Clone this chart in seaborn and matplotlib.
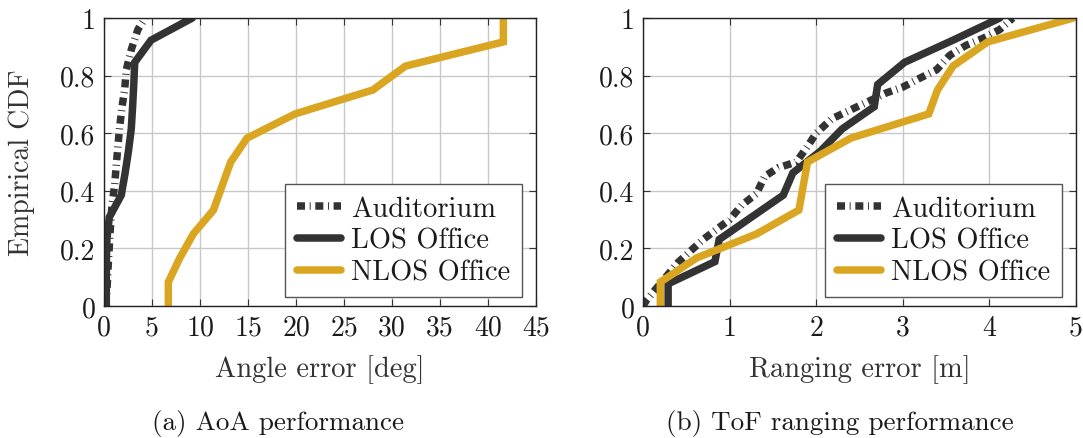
import matplotlib
matplotlib.use("Agg")
import matplotlib.pyplot as plt
import seaborn as sns
import numpy as np
import pandas as pd

# ---------------- data ----------------
series_names = ["Auditorium", "LOS Office", "NLOS Office"]

# (a) AoA angle error [deg]
aoa_aud_x = [0.1, 0.3, 0.45, 0.7, 0.83, 1.11, 1.28, 1.46, 1.63, 1.87, 2.15, 2.32, 2.84, 3.53, 4.3]
aoa_aud_y = [0.0, 0.05, 0.15, 0.29, 0.35, 0.42, 0.49, 0.56, 0.62, 0.69, 0.75, 0.82, 0.89, 0.96, 1.0]
aoa_los_x = [0.24, 0.24, 0.25, 0.3, 0.55, 1.8, 2.2, 2.55, 2.84, 2.98, 3.1, 3.2, 4.9, 9.2]
aoa_los_y = [0.0, 0.077, 0.154, 0.231, 0.308, 0.385, 0.462, 0.538, 0.615, 0.692, 0.769, 0.846, 0.923, 1.0]
aoa_nlos_x = [6.7, 6.7, 7.9, 9.3, 11.4, 13.2, 14.9, 19.9, 28.0, 31.4, 41.6, 41.6]
aoa_nlos_y = [0.0, 0.083, 0.167, 0.25, 0.333, 0.5, 0.583, 0.667, 0.75, 0.833, 0.917, 1.0]

# (b) ToF ranging error [m]
tof_aud_x = [0.0, 0.04, 0.40, 0.69, 1.0, 1.14, 1.31, 1.405, 1.56, 1.77, 1.89, 2.0, 2.18, 2.39,
             2.6, 2.81, 3.0, 3.19, 3.39, 3.54, 3.73, 3.93, 4.12, 4.27]
tof_aud_y = [0.0, 0.02, 0.15, 0.23, 0.30, 0.35, 0.39, 0.45, 0.48, 0.50, 0.55, 0.60, 0.65, 0.68,
             0.71, 0.74, 0.76, 0.79, 0.82, 0.87, 0.905, 0.93, 0.96, 1.0]
tof_los_x = [0.29, 0.29, 0.83, 0.88, 1.25, 1.62, 1.73, 2.05, 2.3, 2.67, 2.71, 3.02, 3.58, 4.12]
tof_los_y = [0.0, 0.077, 0.154, 0.231, 0.308, 0.385, 0.462, 0.538, 0.615, 0.692, 0.769, 0.846, 0.923, 1.0]
tof_nlos_x = [0.2, 0.2, 0.62, 1.31, 1.8, 1.9, 2.4, 3.3, 3.4, 3.58, 3.98, 4.97]
tof_nlos_y = [0.0, 0.083, 0.167, 0.25, 0.333, 0.5, 0.583, 0.667, 0.75, 0.833, 0.917, 1.0]

aoa_xticks = [0, 5, 10, 15, 20, 25, 30, 35, 40, 45]
aoa_xticklabels = ["0", "5", "10", "15", "20", "25", "30", "35", "40", "45"]
tof_xticks = [0, 1, 2, 3, 4, 5]
tof_xticklabels = ["0", "1", "2", "3", "4", "5"]
yticks = [0, 0.2, 0.4, 0.6, 0.8, 1.0]
yticklabels = ["0", "0.2", "0.4", "0.6", "0.8", "1"]

xlabels = ["Angle error [deg]", "Ranging error [m]"]
ylabel = "Empirical CDF"
captions = ["(a) AoA performance", "(b) ToF ranging performance"]

# ---------------- style ----------------
sns.set_theme(style="white")
plt.rcParams["font.family"] = ["cmr10", "DejaVu Serif"]
plt.rcParams["mathtext.fontset"] = "cm"
plt.rcParams["axes.formatter.use_mathtext"] = True

dark = "#333333"
gold = "#DAA520"
lw = 5.4
colors = [dark, dark, gold]

fig = plt.figure(figsize=(10.83, 4.39), dpi=100)
ax1 = fig.add_axes([104 / 1083, 1 - 307 / 439, 432 / 1083, 288 / 439])
ax2 = fig.add_axes([643 / 1083, 1 - 307 / 439, 433 / 1083, 288 / 439])

panels = [
    (ax1, [(aoa_aud_x, aoa_aud_y), (aoa_los_x, aoa_los_y), (aoa_nlos_x, aoa_nlos_y)],
     (0, 45), aoa_xticks, aoa_xticklabels, xlabels[0]),
    (ax2, [(tof_aud_x, tof_aud_y), (tof_los_x, tof_los_y), (tof_nlos_x, tof_nlos_y)],
     (0, 5), tof_xticks, tof_xticklabels, xlabels[1]),
]

for ax, data, xlim, xt, xtl, xl in panels:
    for name, (xs, ys), c in zip(series_names, data, colors):
        df = pd.DataFrame({"x": xs, "y": ys})
        sns.lineplot(data=df, x="x", y="y", ax=ax, sort=False, estimator=None,
                     color=c, linewidth=lw, label=name)
        line = ax.lines[-1]
        line.set_solid_joinstyle("miter")
        if name == "Auditorium":
            line.set_dashes((1.07, 0.62, 0.13, 0.62))
            line.set_dash_capstyle("butt")
    ax.set_xlim(*xlim)
    ax.set_ylim(0, 1)
    ax.set_xticks(xt)
    ax.set_xticklabels(xtl)
    ax.set_yticks(yticks)
    ax.set_yticklabels(yticklabels)
    ax.grid(True, color="#c8c8c8", linewidth=1.0)
    ax.set_axisbelow(True)
    ax.tick_params(direction="in", length=5, width=0.8, color="#333333",
                   top=True, right=True, bottom=True, left=True,
                   labelsize=20, pad=6, labelcolor="#1a1a1a")
    for s in ax.spines.values():
        s.set_color("#222222")
        s.set_linewidth(1.0)
        s.set_visible(True)
    ax.set_xlabel(xl, fontsize=20.5, color="#333333")
    ax.xaxis.set_label_coords(0.5, -(370 - 307) / 288)
    ax.xaxis.label.set_va("center")
    ax.set_ylabel("")
    leg = ax.legend(loc="lower right", bbox_to_anchor=(0.9676, 0.031), borderaxespad=0,
                    fontsize=20.5, frameon=True, fancybox=False, edgecolor="#555555",
                    framealpha=1, handlelength=1.57, handletextpad=0.35,
                    borderpad=0.4, labelspacing=0.2)
    leg.get_frame().set_linewidth(1.0)
    for t in leg.get_texts():
        t.set_color("#1a1a1a")

ax1.set_ylabel(ylabel, fontsize=20, color="#333333")
ax1.yaxis.set_label_coords((22 - 104) / 432, 0.5)
ax1.yaxis.label.set_va("center")

fig.text(278 / 1083, 1 - 424 / 439, captions[0], ha="center", va="center", fontsize=19.5, color="#1a1a1a")
fig.text(840 / 1083, 1 - 424 / 439, captions[1], ha="center", va="center", fontsize=19.5, color="#1a1a1a")

fig.savefig("out.png", dpi=100)
